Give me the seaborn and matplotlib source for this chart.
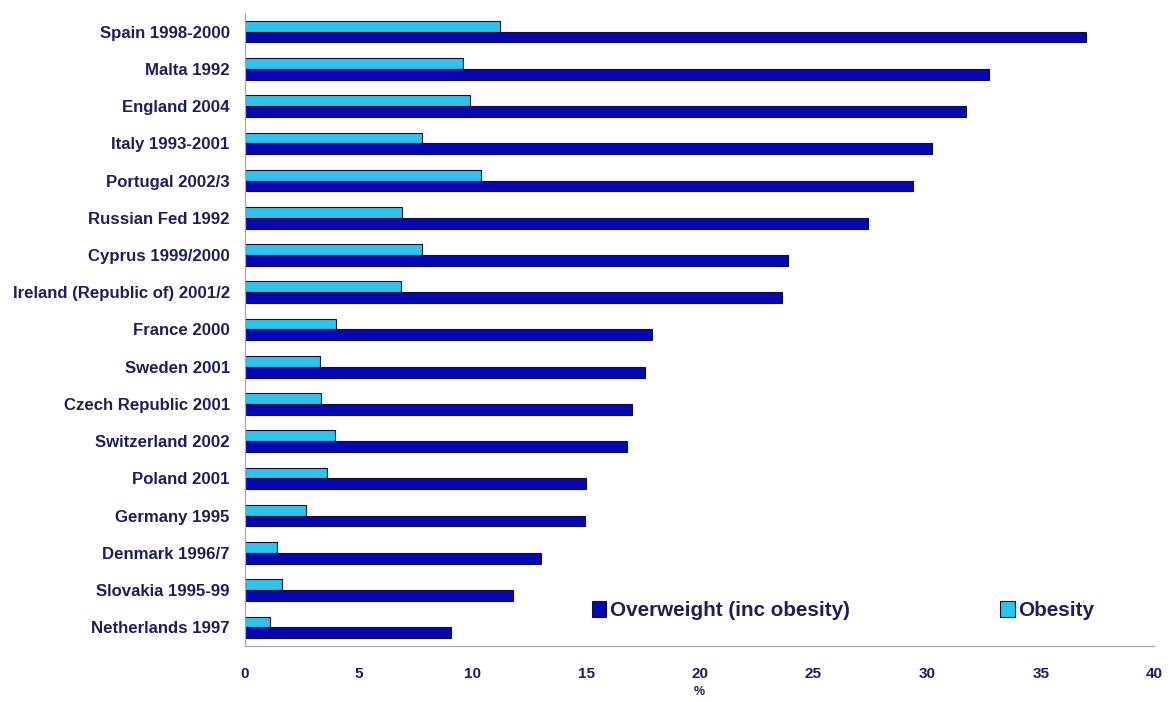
import numpy as np
import pandas as pd
import matplotlib
matplotlib.use("Agg")
import matplotlib.pyplot as plt
from matplotlib.patches import Patch
from matplotlib.ticker import FixedLocator
import seaborn as sns

countries = [
    "Spain 1998-2000", "Malta 1992", "England 2004", "Italy 1993-2001",
    "Portugal 2002/3", "Russian Fed 1992", "Cyprus 1999/2000",
    "Ireland (Republic of) 2001/2", "France 2000", "Sweden 2001",
    "Czech Republic 2001", "Switzerland 2002", "Poland 2001",
    "Germany 1995", "Denmark 1996/7", "Slovakia 1995-99", "Netherlands 1997",
]
overweight = [37.0, 32.7, 31.7, 30.2, 29.4, 27.4, 23.9, 23.6, 17.9, 17.6,
              17.0, 16.8, 15.0, 14.95, 13.0, 11.8, 9.05]
obesity = [11.2, 9.6, 9.9, 7.8, 10.4, 6.9, 7.8, 6.85, 4.0, 3.3,
           3.35, 3.95, 3.6, 2.7, 1.4, 1.65, 1.1]
series_names = ["Overweight (inc obesity)", "Obesity"]
x_ticks = [0, 5, 10, 15, 20, 25, 30, 35, 40]

c_over = "#0606B4"
c_obese = "#2BC4EC"
edge = "#101040"
text_col = "#1E1E5A"

df = pd.DataFrame({
    "country": countries * 2,
    "value": obesity + overweight,
    "series": [series_names[1]] * len(countries) + [series_names[0]] * len(countries),
})

sns.set_style("white")
plt.rcParams["font.family"] = ["Liberation Sans", "DejaVu Sans"]
plt.rcParams["font.weight"] = "bold"

fig = plt.figure(figsize=(11.71, 7.02), dpi=100)
ax = fig.add_axes([0.2092, 0.0798, 0.7767, 0.9017])

sns.barplot(
    data=df, y="country", x="value", hue="series",
    order=countries, hue_order=[series_names[1], series_names[0]],
    palette={series_names[0]: c_over, series_names[1]: c_obese},
    orient="h", width=0.58, gap=0, edgecolor=edge, linewidth=0.8,
    saturation=1, legend=False, ax=ax,
)

ax.set_xlim(0, 40)
ax.set_ylim(len(countries) - 0.5, -0.5)
ax.set_xticks(x_ticks)
ax.set_xticklabels([str(t) for t in x_ticks], fontsize=11,
                   fontweight="bold", color=text_col)
ax.set_xlabel("%", fontsize=9, fontweight="bold", color=text_col, labelpad=4)
ax.set_ylabel("")
ax.set_yticks(range(len(countries)))
ax.set_yticklabels(countries, fontsize=12.1, fontweight="bold", color=text_col)
ax.yaxis.set_minor_locator(FixedLocator(np.arange(-0.5, len(countries), 1.0)))
ax.tick_params(axis="y", which="major", length=0, pad=11)
ax.tick_params(axis="y", which="minor", length=3, direction="in",
               color="#B0B0B0", width=0.8)
ax.tick_params(axis="x", which="major", length=5, direction="out",
               color="#A0A0A0", width=0.8, pad=10)

for side in ["top", "right"]:
    ax.spines[side].set_visible(False)
for side in ["left", "bottom"]:
    ax.spines[side].set_color("#A8A8A8")
    ax.spines[side].set_linewidth(0.9)

handles = [
    Patch(facecolor=c_over, edgecolor=edge, linewidth=0.8, label=series_names[0]),
    Patch(facecolor=c_obese, edgecolor=edge, linewidth=0.8, label=series_names[1]),
]
leg = ax.legend(
    handles=handles, loc="center left", bbox_to_anchor=(0.361, 0.056),
    ncol=2, frameon=False, handlelength=0.7, handleheight=0.85,
    handletextpad=0.15, columnspacing=7.3,
    prop={"family": ["Liberation Sans"], "weight": "bold", "size": 14.9},
)
for t in leg.get_texts():
    t.set_color(text_col)

fig.savefig("out.png", dpi=100)
